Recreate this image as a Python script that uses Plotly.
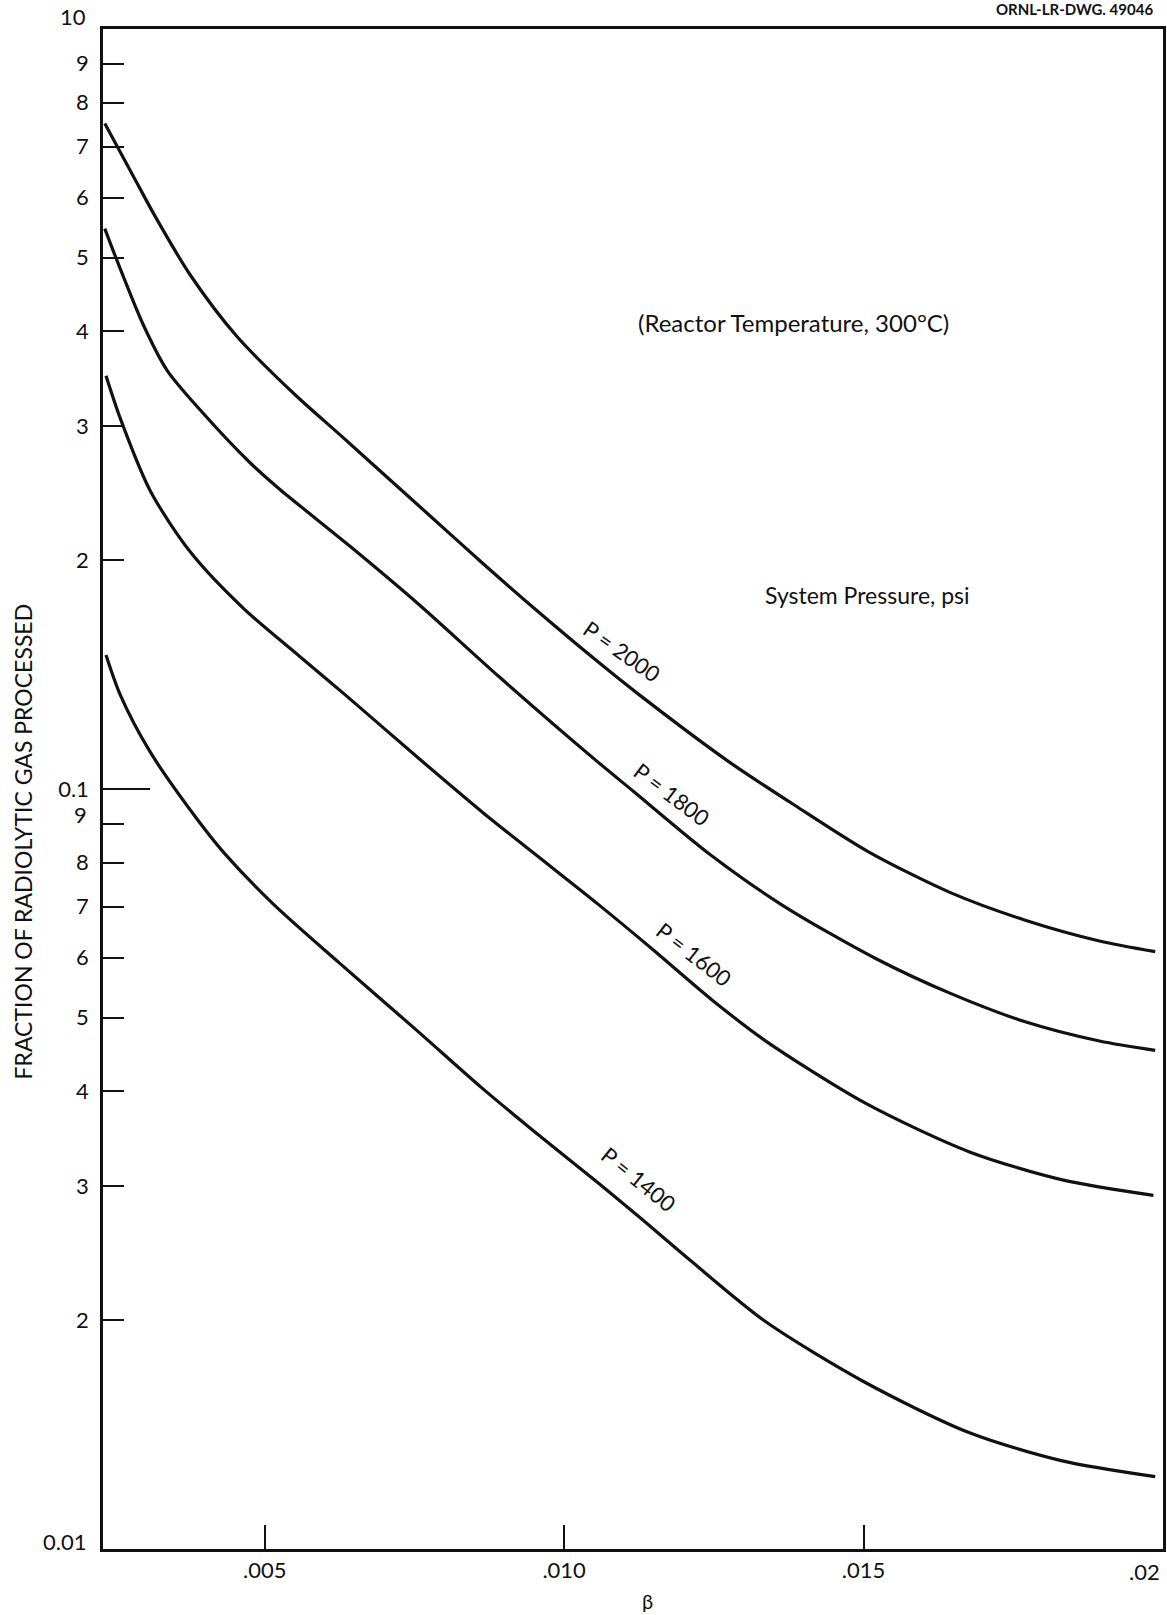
import math
import plotly.graph_objects as go

# ---- data (beta, fraction processed) ----
beta_2000 = [0.00233, 0.00282, 0.00315, 0.00376, 0.00453, 0.00553, 0.00625, 0.00697, 0.00780, 0.00863,
             0.00947, 0.01057, 0.01124, 0.01273, 0.01385, 0.01509, 0.01646, 0.01770, 0.01894, 0.01987]
frac_2000 = [0.751, 0.6374, 0.5707, 0.4742, 0.3945, 0.3289, 0.2928, 0.2603, 0.2273, 0.1985,
             0.1737, 0.1469, 0.1333, 0.1089, 0.0952, 0.0826, 0.0730, 0.0672, 0.0631, 0.0611]

beta_1800 = [0.00233, 0.00254, 0.00298, 0.00337, 0.00392, 0.00476, 0.00525, 0.00642, 0.00758, 0.00891,
             0.01057, 0.01117, 0.01242, 0.01366, 0.01521, 0.01646, 0.01770, 0.01894, 0.01987]
frac_1800 = [0.5462, 0.4945, 0.4070, 0.3556, 0.3155, 0.2685, 0.2480, 0.2088, 0.1748, 0.1406,
             0.1084, 0.0991, 0.0822, 0.0702, 0.0598, 0.0538, 0.0494, 0.0466, 0.0453]

beta_1600 = [0.00235, 0.00259, 0.00309, 0.00376, 0.00464, 0.00559, 0.00636, 0.00758, 0.00863, 0.00947,
             0.01057, 0.01148, 0.01248, 0.01335, 0.01503, 0.01677, 0.01832, 0.01984]
frac_1600 = [0.3497, 0.3071, 0.2467, 0.2050, 0.1730, 0.1493, 0.1327, 0.1096, 0.0933, 0.0826,
             0.0705, 0.0615, 0.0527, 0.0467, 0.0386, 0.0333, 0.0306, 0.0292]

beta_1400 = [0.00235, 0.00259, 0.00309, 0.00387, 0.00431, 0.00514, 0.00625, 0.00753, 0.00863, 0.00947,
             0.01057, 0.01124, 0.01210, 0.01335, 0.01503, 0.01677, 0.01832, 0.01987]
frac_1400 = [0.1501, 0.1329, 0.1118, 0.0913, 0.0826, 0.0706, 0.0590, 0.0482, 0.0404, 0.0356,
             0.0303, 0.0274, 0.0240, 0.01995, 0.01656, 0.01422, 0.01306, 0.01245]

series_names = ["P = 2000", "P = 1800", "P = 1600", "P = 1400"]
# label anchor points (beta, fraction) and rotation
label_beta = [0.01094, 0.01177, 0.01214, 0.01122]
label_frac = [0.1503, 0.0975, 0.0600, 0.0304]
label_angle = [35, 37, 38, 39]

# axis ticks
x_tickvals = [0.005, 0.010, 0.015]
x_ticktext = [".005", ".010", ".015"]
y_tickvals = [0.02, 0.03, 0.04, 0.05, 0.06, 0.07, 0.08, 0.09, 0.1,
              0.2, 0.3, 0.4, 0.5, 0.6, 0.7, 0.8, 0.9]
y_ticktext = ["2", "3", "4", "5", "6", "7", "8", "", "0.1",
              "2", "3", "4", "5", "6", "7", "8", "9"]

FONT = "Lato, 'Noto Sans', sans-serif"
INK = "#111111"
TICK_SIZE = 22

fig = go.Figure()
for b, f in zip([beta_2000, beta_1800, beta_1600, beta_1400],
                [frac_2000, frac_1800, frac_1600, frac_1400]):
    fig.add_trace(go.Scatter(x=b, y=f, mode="lines",
                             line=dict(color=INK, width=3.2, shape="spline", smoothing=0.8),
                             showlegend=False, hoverinfo="skip"))
# empty trace to carry the overlay axis with the long 0.1 tick
fig.add_trace(go.Scatter(x=[None], y=[None], yaxis="y2", showlegend=False, hoverinfo="skip"))

annotations = []
for name, bx, fy, ang in zip(series_names, label_beta, label_frac, label_angle):
    annotations.append(dict(x=bx, y=math.log10(fy), xref="x", yref="y", text=name,
                            textangle=ang, showarrow=False, xshift=2, yshift=3,
                            xanchor="center", yanchor="middle",
                            font=dict(family=FONT, size=22, color=INK)))

annotations += [
    dict(x=0.01383, y=-0.3857, xref="x", yref="y", text="(Reactor Temperature, 300°C)",
         xanchor="center", yanchor="middle",
         showarrow=False, font=dict(family=FONT, size=24, color=INK)),
    dict(x=0.01506, y=-0.7444, xref="x", yref="y", text="System Pressure, psi",
         xanchor="center", yanchor="middle",
         showarrow=False, font=dict(family=FONT, size=23, color=INK)),
    dict(x=1.0, y=1.0, xref="paper", yref="paper", xanchor="right", yanchor="middle",
         xshift=-8, yshift=20, text="<b>ORNL-LR-DWG. 49046</b>", showarrow=False,
         font=dict(family=FONT, size=15, color=INK)),
    # special y labels
    dict(x=0, y=0, xref="paper", yref="y", text="10", xanchor="right", yanchor="middle",
         xshift=-15, yshift=13,
         showarrow=False, font=dict(family=FONT, size=TICK_SIZE, color=INK)),
    dict(x=0, y=math.log10(0.09), xref="paper", yref="y", text="9", xanchor="right", yanchor="middle",
         xshift=-15, yshift=9, borderpad=0,
         showarrow=False, font=dict(family=FONT, size=TICK_SIZE, color=INK)),
    dict(x=0, y=-2, xref="paper", yref="y", text="0.01", xanchor="right", yanchor="middle",
         xshift=-15, yshift=8,
         showarrow=False, font=dict(family=FONT, size=TICK_SIZE, color=INK)),
    dict(x=0.02, y=0, xref="x", yref="paper", text=".02", xanchor="right", yanchor="top",
         yshift=-7, xshift=-1, showarrow=False, font=dict(family=FONT, size=TICK_SIZE, color=INK)),
    dict(x=0.0114, y=0, xref="x", yref="paper", text="β", xanchor="center", yanchor="middle",
         yshift=-52, showarrow=False, font=dict(family=FONT, size=20, color=INK)),
    dict(x=0, y=math.log10(0.0853), xref="paper", yref="y", text="FRACTION OF RADIOLYTIC GAS PROCESSED",
         textangle=-90, xanchor="center", yanchor="middle", xshift=-80, showarrow=False,
         font=dict(family=FONT, size=23, color=INK)),
]

fig.update_layout(
    width=1167, height=1615,
    margin=dict(l=103, r=4, t=29, b=66),
    paper_bgcolor="white", plot_bgcolor="white",
    annotations=annotations,
    xaxis=dict(range=[0.0023, 0.02], tickvals=x_tickvals, ticktext=x_ticktext,
               ticks="inside", ticklen=24, tickwidth=2, tickcolor=INK,
               showline=True, linewidth=2.5, linecolor=INK, mirror=True,
               showgrid=False, zeroline=False, automargin=False,
               tickfont=dict(family=FONT, size=TICK_SIZE, color=INK)),
    yaxis=dict(type="log", range=[-2, 0], tickvals=y_tickvals, ticktext=y_ticktext,
               ticks="inside", ticklen=21, tickwidth=2, tickcolor=INK,
               showline=True, linewidth=2.5, linecolor=INK, mirror=True,
               showgrid=False, zeroline=False, automargin=False, ticklabelstandoff=7,
               tickfont=dict(family=FONT, size=TICK_SIZE, color=INK)),
    yaxis2=dict(type="log", range=[-2, 0], overlaying="y", side="left",
                tickvals=[0.1], ticks="inside", ticklen=47, tickwidth=2, tickcolor=INK,
                showticklabels=False, showline=False, showgrid=False, zeroline=False,
                automargin=False),
)

fig.write_html("out.html")
